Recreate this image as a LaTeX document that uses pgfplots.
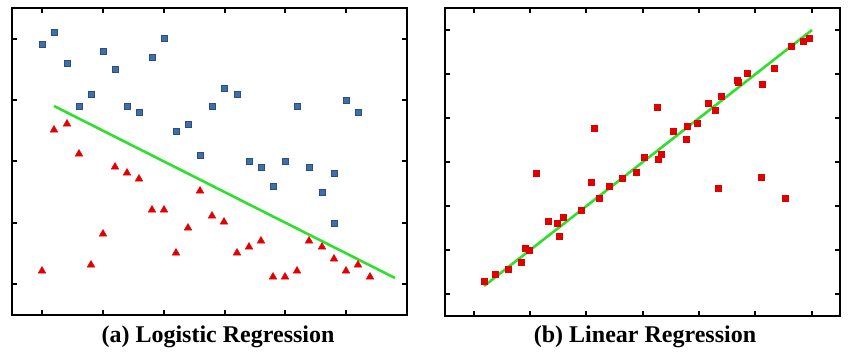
\documentclass[border=0pt]{standalone}
\usepackage{fontspec}
\setmainfont{Liberation Serif}
\usepackage{pgfplots}
\pgfplotsset{compat=1.18}
\definecolor{sqblue}{HTML}{3F6EA8}
\definecolor{sqedge}{HTML}{2A4E80}
\definecolor{trired}{HTML}{E00000}
\definecolor{lgreen}{HTML}{2EE02E}
\begin{document}
\begin{tikzpicture}
\path[use as bounding box] (0pt,0pt) rectangle (850pt,355pt);
\pgfplotsset{
  panel/.style={
    scale only axis, y dir=reverse, clip=false,
    axis line style={line width=1.8pt, black},
    tick style={line width=1.6pt, black},
    major tick length=5pt,
    tick align=inside, tick pos=both,
    xticklabels={}, yticklabels={},
  }
}
\begin{axis}[panel, at={(12pt,40pt)}, anchor=south west, width=395pt, height=307pt,
  xmin=12, xmax=407, ymin=8, ymax=315,
  xtick={42,103,164,225,285,346}, ytick={39,100,161,223,284}]
\addplot[only marks, mark=square*, mark size=3pt, color=sqedge, mark options={fill=sqblue, line width=0.6pt}] coordinates {
(42,44) (54,32) (67,63) (79,106) (91,94) (103,51) (115,69) (127,106) (139,112)
(152,57) (164,38) (176,131) (188,124) (200,155) (212,106) (224,88) (237,94)
(249,161) (261,167) (285,161) (297,106) (309,167) (334,173) (346,100) (358,112)
(273,186) (322,192) (334,223)};
\addplot[only marks, mark=triangle*, mark size=4.5pt, color=trired] coordinates {
(54,130) (67,124) (79,154) (115,167) (127,173) (139,179) (200,191) (152,210)
(164,210) (212,216) (224,222) (103,234) (188,228) (176,253) (237,253) (249,247)
(261,241) (309,241) (322,247) (334,259) (346,271) (358,265) (370,277) (273,277)
(285,277) (297,271) (42,271) (91,265)};
\addplot[lgreen, line width=2.6pt] coordinates {(54,106) (395,278)};
\end{axis}
\begin{axis}[panel, at={(445pt,39pt)}, anchor=south west, width=395pt, height=308pt,
  xmin=445, xmax=840, ymin=8, ymax=316,
  xtick={474,530,586,643,699,755,812}, ytick={30,74,118,162,206,250,294}]
\addplot[only marks, mark=square*, mark size=3pt, color=trired] coordinates {
(809,38) (803,41) (791,46) (774,68) (747,73) (737,80) (738,82) (762,84) (721,96)
(708,103) (715,110) (657,107) (594,128) (697,123) (687,126) (673,131) (686,139)
(661,154) (658,159) (644,157) (636,172) (622,178) (536,173) (761,177)
(591,182) (609,186) (718,188) (785,198) (599,198) (581,210) (548,221) (557,223)
(563,217) (559,236) (525,248) (529,250) (521,262) (508,269) (495,274) (484,281)};
\addplot[lgreen, line width=2.6pt] coordinates {(484,286) (812,30)};
\end{axis}
\node[font=\fontsize{24}{28}\selectfont\bfseries] at (218pt,18pt) {(a) Logistic Regression};
\node[font=\fontsize{24}{28}\selectfont\bfseries] at (645pt,18pt) {(b) Linear Regression};
\end{tikzpicture}
\end{document}
